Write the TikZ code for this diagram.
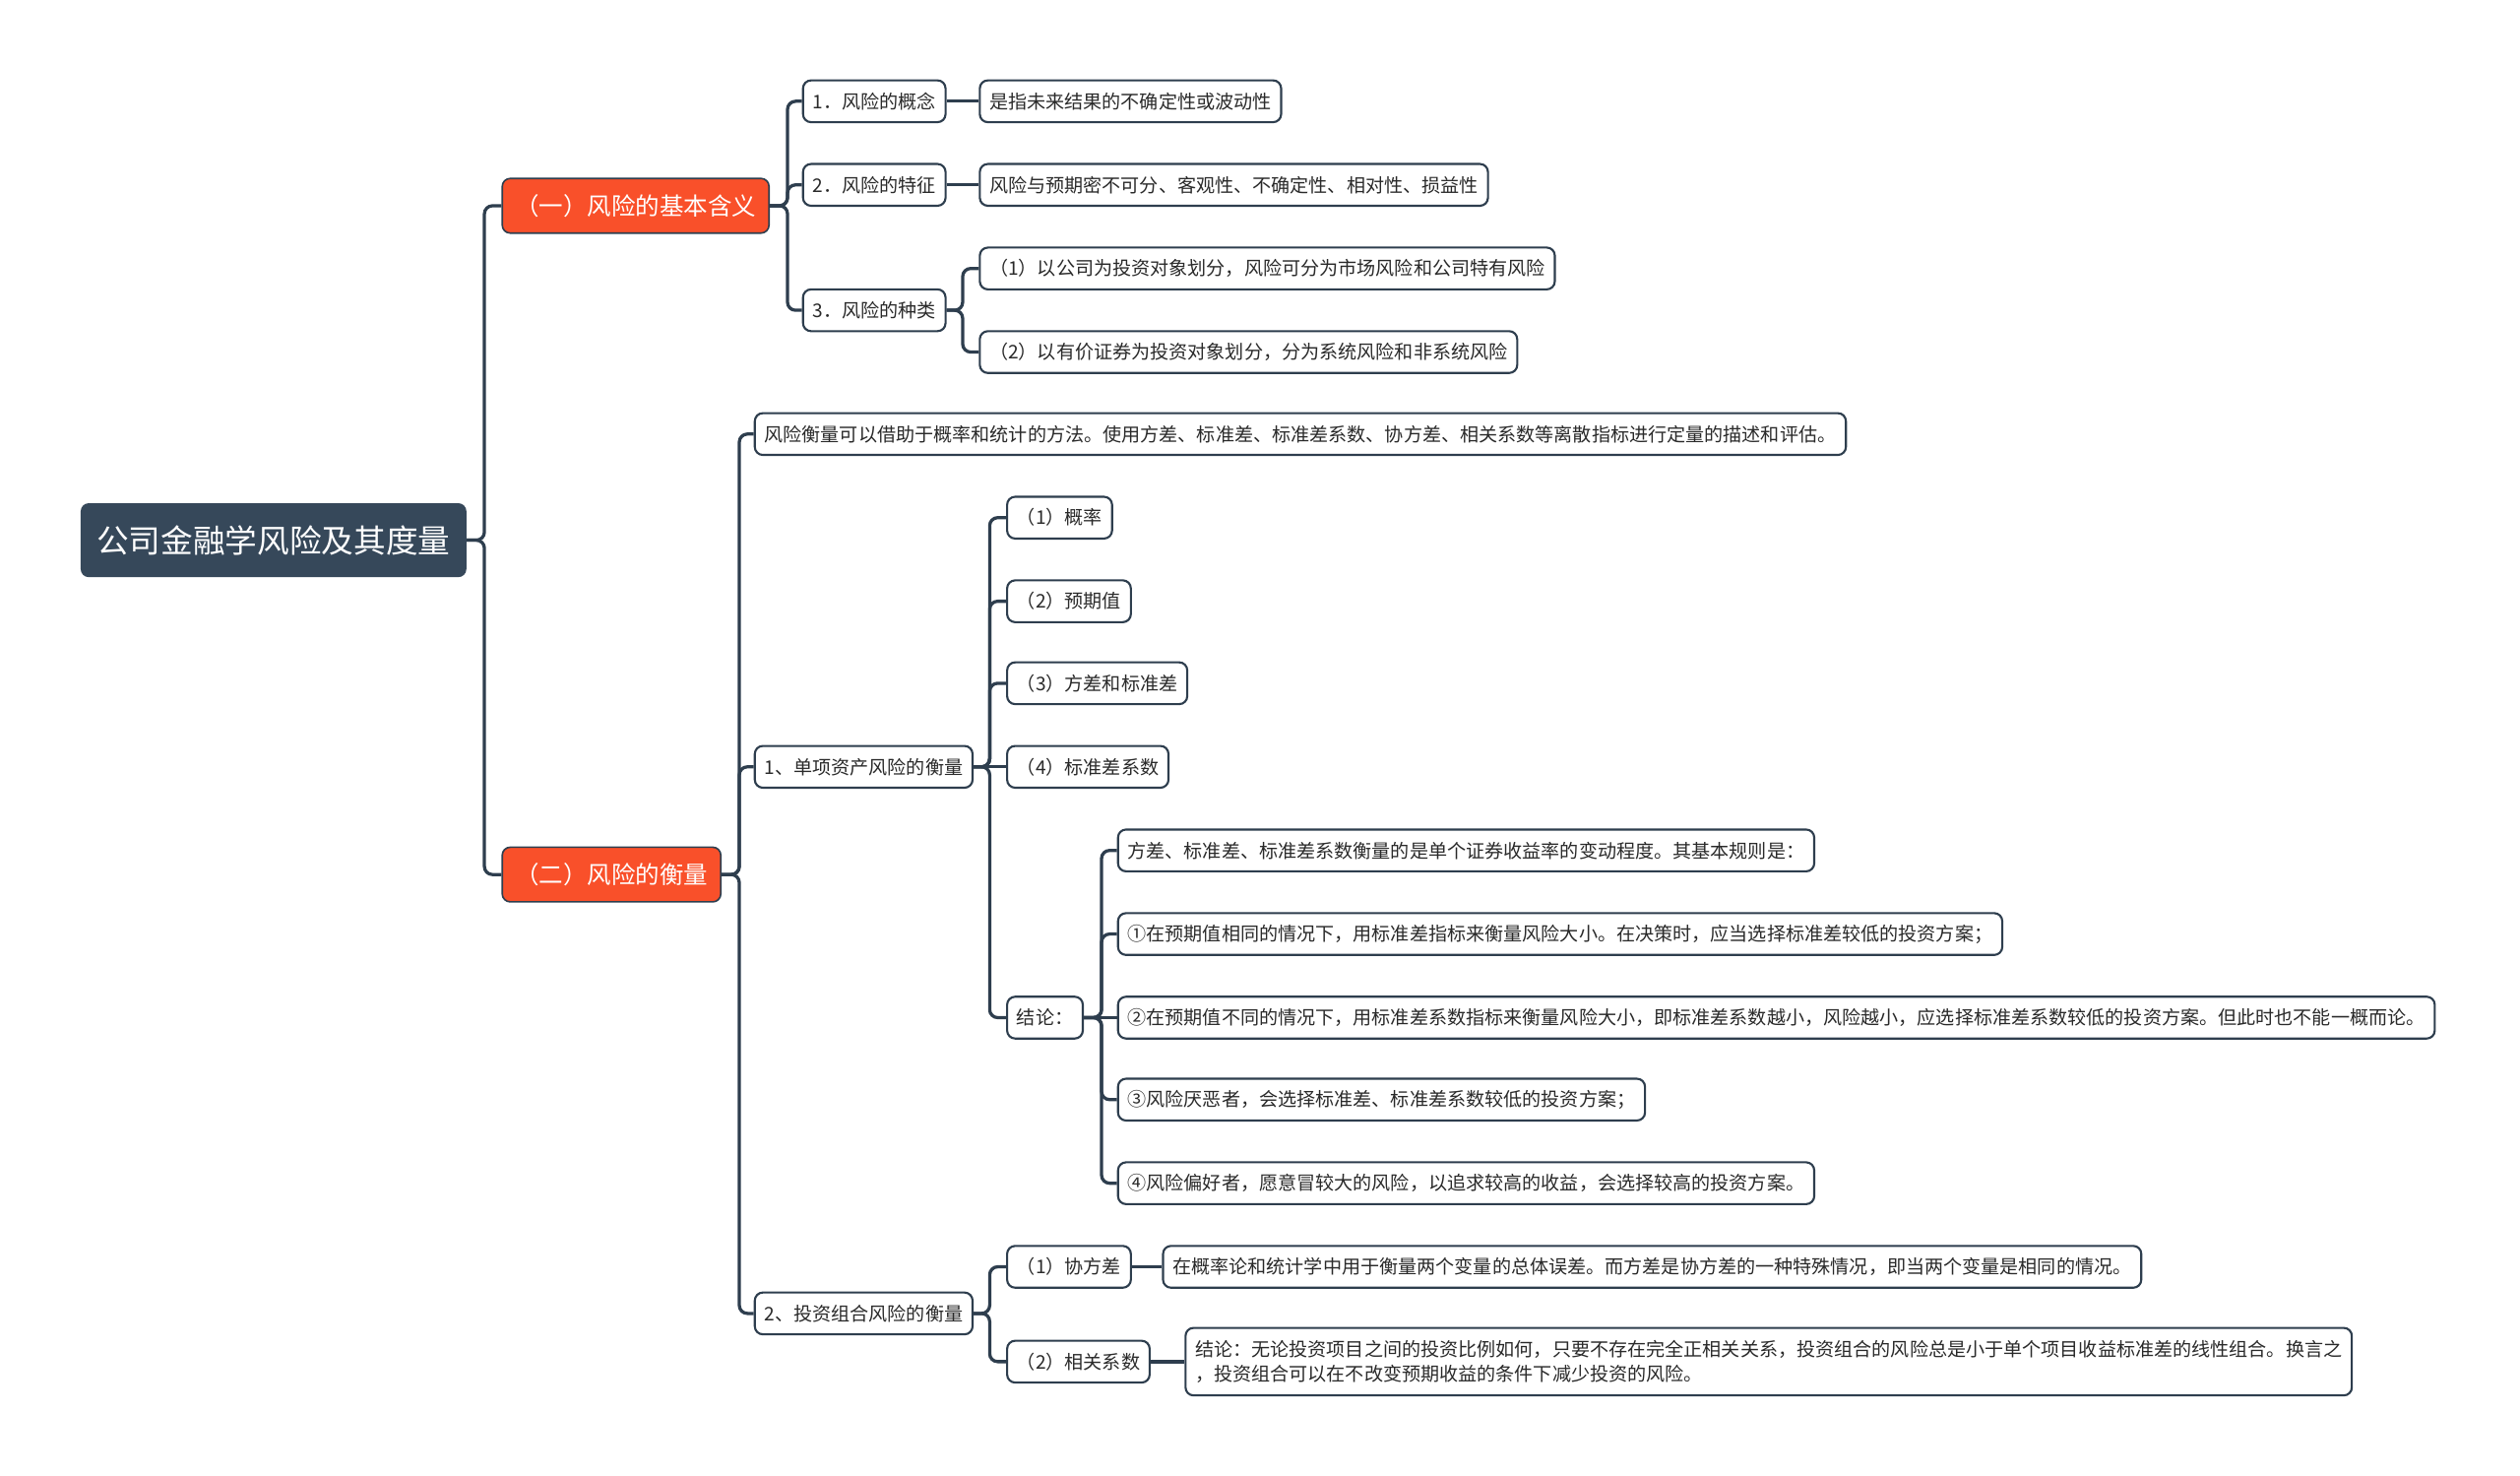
\documentclass[tikz,border=0pt]{standalone}
\usepackage{fontspec}
\setmainfont{Noto Sans CJK SC}
\definecolor{linec}{HTML}{2E3E4E}
\definecolor{redc}{HTML}{F9502A}
\definecolor{rootc}{HTML}{36485A}
\definecolor{txtc}{HTML}{2A2A2A}
\newcommand{\fsS}{\fontsize{11.7}{15}\selectfont}
\newcommand{\fsM}{\fontsize{15}{18}\selectfont}
\newcommand{\fsL}{\fontsize{20}{24}\selectfont}
\tikzset{
  conn/.style={draw=linec, line width=2pt, rounded corners=5pt},
  leaf/.style={draw=linec, line width=1.3pt, rounded corners=5pt, fill=white, text=txtc,
     font=\fsS, minimum height=26pt, inner xsep=6pt, inner ysep=2pt, anchor=west},
  redbox/.style={draw=linec, line width=1pt, rounded corners=5pt, fill=redc, text=white,
     font=\fsM, minimum height=34pt, inner xsep=8pt, anchor=west},
  rootbox/.style={fill=rootc, rounded corners=5pt, text=white, font=\fsL,
     minimum height=46pt, inner xsep=10pt, anchor=west}
}
\begin{document}
\begin{tikzpicture}[x=1pt,y=-1pt]
\useasboundingbox (0,0) rectangle (1568,918);
% root and level 1
\node[rootbox] (root) at (50,336) {公司金融学风险及其度量};
\node[redbox] (r1) at (312,128) {（一）风险的基本含义};
\node[redbox] (r2) at (312,544) {（二）风险的衡量};
% branch 1
\node[leaf] (a1) at (499,63) {1．风险的概念};
\node[leaf] (a2) at (499,115) {2．风险的特征};
\node[leaf] (a3) at (499,193) {3．风险的种类};
\node[leaf] (a1d) at (609,63) {是指未来结果的不确定性或波动性};
\node[leaf] (a2d) at (609,115) {风险与预期密不可分、客观性、不确定性、相对性、损益性};
\node[leaf] (a3a) at (609,167) {（1）以公司为投资对象划分，风险可分为市场风险和公司特有风险};
\node[leaf] (a3b) at (609,219) {（2）以有价证券为投资对象划分，分为系统风险和非系统风险};
% branch 2
\node[leaf] (b0) at (469,270) {风险衡量可以借助于概率和统计的方法。使用方差、标准差、标准差系数、协方差、相关系数等离散指标进行定量的描述和评估。};
\node[leaf] (b1) at (469,477) {1、单项资产风险的衡量};
\node[leaf] (b2) at (469,817) {2、投资组合风险的衡量};
\node[leaf] (c1) at (626,322) {（1）概率};
\node[leaf] (c2) at (626,374) {（2）预期值};
\node[leaf] (c3) at (626,425) {（3）方差和标准差};
\node[leaf] (c4) at (626,477) {（4）标准差系数};
\node[leaf] (c5) at (626,633) {结论：};
\node[leaf] (d1) at (695,529) {方差、标准差、标准差系数衡量的是单个证券收益率的变动程度。其基本规则是：};
\node[leaf] (d2) at (695,581) {①在预期值相同的情况下，用标准差指标来衡量风险大小。在决策时，应当选择标准差较低的投资方案；};
\node[leaf] (d3) at (695,633) {②在预期值不同的情况下，用标准差系数指标来衡量风险大小，即标准差系数越小，风险越小，应选择标准差系数较低的投资方案。但此时也不能一概而论。};
\node[leaf] (d4) at (695,684) {③风险厌恶者，会选择标准差、标准差系数较低的投资方案；};
\node[leaf] (d5) at (695,736) {④风险偏好者，愿意冒较大的风险，以追求较高的收益，会选择较高的投资方案。};
\node[leaf] (e1) at (626,788) {（1）协方差};
\node[leaf] (e2) at (626,847) {（2）相关系数};
\node[leaf] (e1d) at (723,788) {在概率论和统计学中用于衡量两个变量的总体误差。而方差是协方差的一种特殊情况，即当两个变量是相同的情况。};
\node[leaf, minimum height=42pt, align=left, font={\fontsize{11.7}{15.5}\selectfont}] (e2d) at (737,847) {结论：无论投资项目之间的投资比例如何，只要不存在完全正相关关系，投资组合的风险总是小于单个项目收益标准差的线性组合。换言之\\，投资组合可以在不改变预期收益的条件下减少投资的风险。};
% connectors
\foreach \c in {r1,r2} \draw[conn] (root.east) -- ++(11,0) |- (\c.west);
\foreach \c in {a1,a2,a3} \draw[conn] (r1.east) -- ++(11,0) |- (\c.west);
\draw[conn] (a1.east) -- (a1d.west);
\draw[conn] (a2.east) -- (a2d.west);
\foreach \c in {a3a,a3b} \draw[conn] (a3.east) -- ++(10,0) |- (\c.west);
\foreach \c in {b0,b1,b2} \draw[conn] (r2.east) -- ++(11,0) |- (\c.west);
\foreach \c in {c1,c2,c3,c5} \draw[conn] (b1.east) -- ++(10,0) |- (\c.west);
\draw[conn] (b1.east) -- (c4.west);
\foreach \c in {d1,d2,d4,d5} \draw[conn] (c5.east) -- ++(11,0) |- (\c.west);
\draw[conn] (c5.east) -- (d3.west);
\foreach \c in {e1,e2} \draw[conn] (b2.east) -- ++(10,0) |- (\c.west);
\draw[conn] (e1.east) -- (e1d.west);
\draw[conn] (e2.east) -- (e2d.west);
\end{tikzpicture}
\end{document}
